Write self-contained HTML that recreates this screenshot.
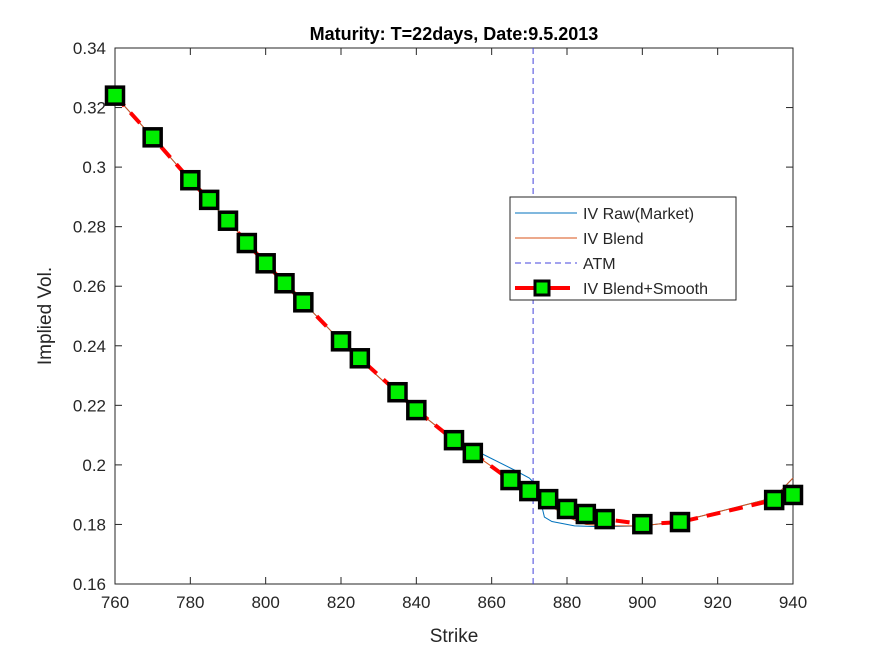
<!DOCTYPE html>
<html><head><meta charset="utf-8"><style>
body{margin:0;background:#fff}
svg text{font-family:"Liberation Sans",Arial,sans-serif;fill:#262626}
</style></head><body>
<svg id="c" width="875" height="656" viewBox="0 0 875 656">
<rect x="0" y="0" width="875" height="656" fill="#fff"/>
<g id="plot"></g>
</svg>
<script>
const xTicks=[760,780,800,820,840,860,880,900,920,940];
const yTicks=[0.16,0.18,0.2,0.22,0.24,0.26,0.28,0.3,0.32,0.34];
const yTickLabels=["0.16","0.18","0.2","0.22","0.24","0.26","0.28","0.3","0.32","0.34"];
const strikes=[760,770,780,785,790,795,800,805,810,820,825,835,840,850,855,865,870,875,880,885,890,900,910,935,940];
const smoothVals=[0.324,0.310,0.2956,0.289,0.282,0.2745,0.2677,0.261,0.2546,0.2415,0.2358,0.2244,0.2184,0.2083,0.204,0.1949,0.1912,0.1885,0.1852,0.1835,0.1818,0.1801,0.1808,0.1882,0.1899];
const rawStrikes=[760,770,780,790,800,810,820,830,840,850,857,866,870,872,874,876,882,889,900,910,935,940];
const rawVals=[0.324,0.310,0.2956,0.282,0.2677,0.2546,0.2415,0.2295,0.2184,0.2083,0.204,0.1983,0.1956,0.1930,0.1825,0.181,0.1795,0.1792,0.1795,0.181,0.189,0.1956];
const blendStrikes=[760,770,780,790,800,810,820,830,840,850,860,870,880,885,890,900,910,935,940];
const blendVals=[0.324,0.310,0.2956,0.282,0.2677,0.2546,0.2415,0.2295,0.2184,0.2083,0.1995,0.1912,0.1825,0.1800,0.1795,0.1795,0.181,0.189,0.1956];
const atm=871;
const L=115,R=793,T=48,B=584;
const X=s=>L+(s-760)/(940-760)*(R-L);
const Y=v=>B-(v-0.16)/(0.34-0.16)*(B-T);
const NS="http://www.w3.org/2000/svg";
const g=document.getElementById('plot');
function el(t,a,p){const e=document.createElementNS(NS,t);for(const k in a)e.setAttribute(k,a[k]);(p||g).appendChild(e);return e;}
function txt(x,y,s,a){const e=el('text',Object.assign({x:x,y:y},a));e.textContent=s;return e;}
let e=el('rect',{x:L,y:T,width:R-L,height:B-T,fill:'none',stroke:'#262626','stroke-width':1});

xTicks.forEach(t=>{const x=X(t);
 el('line',{x1:x,x2:x,y1:B,y2:B-7,stroke:'#262626'});el('line',{x1:x,x2:x,y1:T,y2:T+7,stroke:'#262626'});
 const l=txt(x,608,String(t),{'font-size':17,'text-anchor':'middle'});
 });
yTicks.forEach((t,i)=>{const y=Y(t);
 el('line',{x1:L,x2:L+7,y1:y,y2:y,stroke:'#262626'});el('line',{x1:R,x2:R-7,y1:y,y2:y,stroke:'#262626'});
 const l=txt(106,y+6,yTickLabels[i],{'font-size':17,'text-anchor':'end'});
 });
e=txt(454,642,'Strike',{'font-size':19,'text-anchor':'middle'});
e=txt(0,0,'Implied Vol.',{'font-size':19,'text-anchor':'middle',transform:'translate(51,316) rotate(-90)'});
e=txt(454,40,'Maturity: T=22days, Date:9.5.2013',{'font-size':18,'font-weight':'bold','text-anchor':'middle',style:'fill:#000'});
const pts=(xs,vs)=>xs.map((s,i)=>X(s).toFixed(1)+','+Y(vs[i]).toFixed(1)).join(' ');
e=el('line',{x1:X(atm),x2:X(atm),y1:T,y2:B,stroke:'#4444dd','stroke-dasharray':'6,4','stroke-width':1});

e=el('polyline',{points:pts(rawStrikes,rawVals),fill:'none',stroke:'#0072bd','stroke-width':1});

e=el('polyline',{points:pts(blendStrikes,blendVals),fill:'none',stroke:'#d95319','stroke-width':1});

e=el('polyline',{points:pts(strikes,smoothVals),fill:'none',stroke:'#ff0000','stroke-width':4,'stroke-dasharray':'14,9'});

strikes.forEach((s,i)=>{const m=el('rect',{x:X(s)-8.5,y:Y(smoothVals[i])-8.5,width:17,height:17,fill:'#00ee00',stroke:'#000','stroke-width':3.5});
 });
const lg=el('g',{});
el('rect',{x:510,y:197,width:226,height:103,fill:'#fff',stroke:'#262626'},lg);
const names=['IV Raw(Market)','IV Blend','ATM','IV Blend+Smooth'];
names.forEach((n,i)=>{const y=213+i*25;
 if(i==0)el('line',{x1:515,x2:577,y1:y,y2:y,stroke:'#0072bd'},lg);
 if(i==1)el('line',{x1:515,x2:577,y1:y,y2:y,stroke:'#d95319'},lg);
 if(i==2)el('line',{x1:515,x2:577,y1:y,y2:y,stroke:'#4444dd','stroke-dasharray':'6,4'},lg);
 if(i==3){el('line',{x1:515,x2:570,y1:y,y2:y,stroke:'#ff0000','stroke-width':4},lg);el('rect',{x:535,y:y-7,width:14,height:14,fill:'#00ee00',stroke:'#000','stroke-width':3},lg);}
 const t=txt(583,y+6,n,{'font-size':16},lg);});
</script>
</body></html>
